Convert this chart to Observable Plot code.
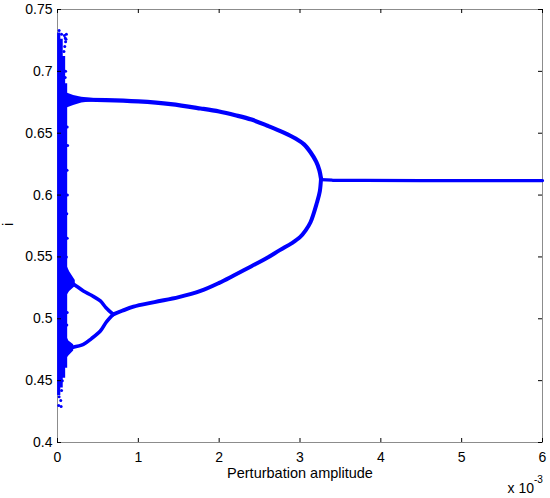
<!DOCTYPE html>
<html>
<head>
<meta charset="utf-8">
<script src="https://cdn.jsdelivr.net/npm/d3@7"></script>
<script src="https://cdn.jsdelivr.net/npm/@observablehq/plot@0.6"></script>
<style>
  html, body { margin: 0; padding: 0; background: #fff; }
  svg { display: block; }
</style>
</head>
<body>
<div id="chart"></div>
<script>
// x in units of 1e-3 (Perturbation amplitude), y = i
const xTicks = [0, 1, 2, 3, 4, 5, 6];
const yTicks = [0.4, 0.45, 0.5, 0.55, 0.6, 0.65, 0.7, 0.75];

// period-1 / period-2 main branches
const upperX = [0.12, 0.3, 0.6, 1.0, 1.4, 1.77, 2.0, 2.2, 2.4, 2.6, 2.8, 2.95, 3.05, 3.13, 3.2, 3.24, 3.26];
const upperY = [0.6765, 0.677, 0.6768, 0.6757, 0.6735, 0.670, 0.6675, 0.6645, 0.661, 0.656, 0.6505, 0.6455, 0.641, 0.6346, 0.627, 0.620, 0.6133];
const lowerX = [3.26, 3.245, 3.21, 3.13, 3.07, 3.0, 2.9, 2.75, 2.6, 2.4, 2.18, 2.0, 1.77, 1.5, 1.2, 0.94, 0.8, 0.69];
const lowerY = [0.6133, 0.603, 0.594, 0.578, 0.5715, 0.566, 0.5612, 0.5555, 0.5495, 0.5425, 0.535, 0.529, 0.5225, 0.5175, 0.5135, 0.5098, 0.5065, 0.5036];
const subUpX = [0.69, 0.6, 0.53, 0.42, 0.32, 0.2, 0.12];
const subUpY = [0.5036, 0.509, 0.5144, 0.519, 0.5225, 0.528, 0.531];
const subLoX = [0.69, 0.6, 0.53, 0.42, 0.32, 0.16, 0.1];
const subLoY = [0.5036, 0.497, 0.4901, 0.484, 0.4793, 0.4766, 0.476];
const fixedX = [3.26, 3.4, 3.6, 3.8, 4.5, 5, 6];
const fixedY = [0.6125, 0.612, 0.6118, 0.6118, 0.6117, 0.6117, 0.6117];

// fans where the branches meet the chaotic band
const fanUX = [0.1, 0.2, 0.3, 0.45];
const fanUlo = [0.67, 0.6725, 0.6745, 0.6757];
const fanUhi = [0.683, 0.6805, 0.679, 0.678];
const fanMX = [0.08, 0.15, 0.22];
const fanMlo = [0.515, 0.522, 0.526];
const fanMhi = [0.548, 0.538, 0.531];
const fanLX = [0.08, 0.14, 0.2];
const fanLlo = [0.465, 0.470, 0.474];
const fanLhi = [0.49, 0.482, 0.479];

// chaotic band near zero amplitude
const bandX = [0.015, 0.045, 0.075, 0.1];
const bandLo = [0.438, 0.444, 0.452, 0.46];
const bandHi = [0.731, 0.726, 0.712, 0.69];
const speckX = [0.085, 0.095, 0.1, 0.09, 0.08, 0.02, 0.05, 0.12, 0.125, 0.118, 0.122, 0.115, 0.12, 0.11, 0.12, 0.115, 0.1, 0.095, 0.07, 0.06, 0.03, 0.05, 0.02, 0.04, 0.015, 0.045, 0.11, 0.105];
const speckY = [0.729, 0.727, 0.724, 0.72, 0.716, 0.733, 0.73, 0.655, 0.64, 0.62, 0.6, 0.585, 0.565, 0.55, 0.505, 0.495, 0.7, 0.695, 0.458, 0.45, 0.447, 0.442, 0.437, 0.434, 0.43, 0.429, 0.73, 0.726];

const blue = "#0000ff";
const W = 550, H = 498;
const mL = 57, mR = 8, mT = 9, mB = 56;
const innerW = W - mL - mR, innerH = H - mT - mB;
const tickLen = 4;

const pts = (xs, ys) => xs.map((x, i) => ({x, y: ys[i]}));
const band = (xs, lo, hi) => xs.map((x, i) => ({x, y1: lo[i], y2: hi[i]}));

const chart = Plot.plot({
  width: W, height: H,
  marginLeft: mL, marginRight: mR, marginTop: mT, marginBottom: mB,
  style: {fontFamily: "Liberation Sans, Arial, sans-serif", fontSize: "14px", color: "#000", background: "#fff"},
  x: {domain: [0, 6]},
  y: {domain: [0.4, 0.75]},
  marks: [
    Plot.frame({stroke: "#8c8c8c"}),
    // chaotic band
    Plot.ruleX(band(bandX, bandLo, bandHi), {x: "x", y1: "y1", y2: "y2", stroke: blue, strokeWidth: 3.2}),
    Plot.dot(pts(speckX, speckY), {x: "x", y: "y", r: 1.5, fill: blue}),
    // fans
    Plot.areaY(band(fanUX, fanUlo, fanUhi), {x: "x", y1: "y1", y2: "y2", fill: blue}),
    Plot.areaY(band(fanMX, fanMlo, fanMhi), {x: "x", y1: "y1", y2: "y2", fill: blue}),
    Plot.areaY(band(fanLX, fanLlo, fanLhi), {x: "x", y1: "y1", y2: "y2", fill: blue}),
    // branches
    Plot.line(pts(upperX, upperY), {x: "x", y: "y", stroke: blue, strokeWidth: 4.2, curve: "catmull-rom"}),
    Plot.line(pts(lowerX, lowerY), {x: "x", y: "y", stroke: blue, strokeWidth: 4, curve: "catmull-rom"}),
    Plot.line(pts(subUpX, subUpY), {x: "x", y: "y", stroke: blue, strokeWidth: 3.6, curve: "catmull-rom"}),
    Plot.line(pts(subLoX, subLoY), {x: "x", y: "y", stroke: blue, strokeWidth: 3.6, curve: "catmull-rom"}),
    Plot.line(pts(fixedX, fixedY), {x: "x", y: "y", stroke: blue, strokeWidth: 3.3}),
    // inward ticks on all four sides
    Plot.ruleX(xTicks, {x: d => d, insetTop: innerH - tickLen, stroke: "#000"}),
    Plot.ruleX(xTicks, {x: d => d, insetBottom: innerH - tickLen, stroke: "#000"}),
    Plot.ruleY(yTicks, {y: d => d, insetRight: innerW - tickLen, stroke: "#000"}),
    Plot.ruleY(yTicks, {y: d => d, insetLeft: innerW - tickLen, stroke: "#000"}),
    // tick labels
    Plot.axisX(xTicks, {tickSize: 0, tickPadding: 10, label: null, fontSize: 14}),
    Plot.axisY(yTicks, {tickSize: 0, tickPadding: 5, label: null, fontSize: 14, tickFormat: d => String(+d.toFixed(2))}),
    // axis titles
    Plot.text(["Perturbation amplitude"], {frameAnchor: "bottom", dy: 35, fontSize: 14.5, text: d => d}),
    Plot.text(["i"], {frameAnchor: "left", dx: -49, rotate: -90, fontSize: 14.5, text: d => d}),
    Plot.text(["x 10"], {frameAnchor: "bottom-right", textAnchor: "end", dx: -8.5, dy: 50, fontSize: 14, text: d => d}),
    Plot.text(["-3"], {frameAnchor: "bottom-right", textAnchor: "start", dx: -8.5, dy: 40, fontSize: 10, text: d => d})
  ]
});
document.getElementById("chart").appendChild(chart);
</script>
</body>
</html>
